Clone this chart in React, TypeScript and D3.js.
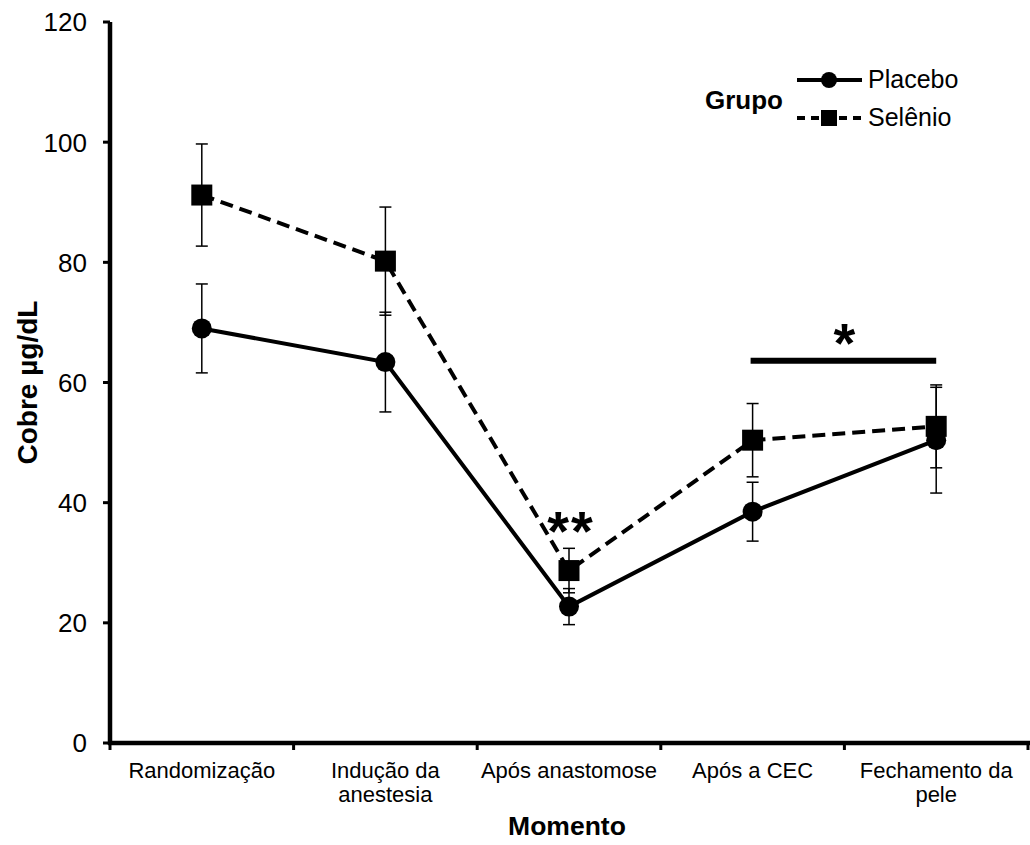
import React from "react";
import * as d3 from "d3";

const categories = ["Randomização", "Indução da\nanestesia", "Após anastomose", "Após a CEC", "Fechamento da\npele"];
const placeboMean = [69.0, 63.4, 22.7, 38.5, 50.4];
const placeboErr = [7.4, 8.3, 3.0, 4.9, 8.8];
const selenioMean = [91.2, 80.2, 28.7, 50.4, 52.7];
const selenioErr = [8.5, 9.0, 3.7, 6.1, 6.9];
const yTicks = [0, 20, 40, 60, 80, 100, 120];
const sigBar = { from: 3, to: 4, value: 63.6 };

const W = 1030, H = 845;
const FONT = "'Liberation Sans', Arial, Helvetica, sans-serif";

export default function App() {
  const x = d3.scaleBand<string>().domain(categories).range([110, 1028]).padding(0);
  const y = d3.scaleLinear().domain([0, 120]).range([743, 22]);
  const cx = (i: number) => (x(categories[i]) as number) + x.bandwidth() / 2;
  const line = d3.line<number>().x((_, i) => cx(i)).y((d) => y(d));
  const bandEdges = [...categories.map((c) => x(c) as number), 1028];

  const errBars = (means: number[], errs: number[], key: string) =>
    means.map((m, i) => {
      const X = cx(i);
      const t = y(m + errs[i]), b = y(m - errs[i]);
      return (
        <g key={key + i} stroke="#000" strokeWidth={1.5}>
          <line x1={X} x2={X} y1={t} y2={b} />
          <line x1={X - 6} x2={X + 6} y1={t} y2={t} />
          <line x1={X - 6} x2={X + 6} y1={b} y2={b} />
        </g>
      );
    });

  return (
    <svg width={W} height={H} style={{ position: "absolute", left: 0, top: 0, background: "#fff" }} fontFamily={FONT}>
      <rect width={W} height={H} fill="#fff" />
      {/* axes */}
      <line x1={110} x2={110} y1={y(120)} y2={y(0) + 2} stroke="#000" strokeWidth={4.5} />
      <line x1={108} x2={1030} y1={y(0)} y2={y(0)} stroke="#000" strokeWidth={4.5} />
      {yTicks.map((t) => (
        <g key={t}>
          <line x1={103} x2={110} y1={y(t)} y2={y(t)} stroke="#000" strokeWidth={3} />
          <text x={87} y={y(t)} dy="0.36em" textAnchor="end" fontSize={26} fill="#000">{t}</text>
        </g>
      ))}
      {bandEdges.map((e, i) => (
        <line key={i} x1={e} x2={e} y1={y(0)} y2={y(0) + 7} stroke="#000" strokeWidth={3} />
      ))}
      {categories.map((c, i) => (
        <text key={c} x={cx(i)} y={778} textAnchor="middle" fontSize={22} fill="#000">
          {c.split("\n").map((ln, j) => (
            <tspan key={j} x={cx(i)} dy={j === 0 ? 0 : 24}>{ln}</tspan>
          ))}
        </text>
      ))}
      <text x={567} y={835} textAnchor="middle" fontSize={26.5} fontWeight="bold" fill="#000">Momento</text>
      <text transform={`translate(37, ${y(60)}) rotate(-90)`} textAnchor="middle" fontSize={28} fontWeight="bold" fill="#000">Cobre µg/dL</text>

      {/* lines */}
      <path d={line(placeboMean) || ""} fill="none" stroke="#000" strokeWidth={4} />
      <path d={line(selenioMean) || ""} fill="none" stroke="#000" strokeWidth={4} strokeDasharray="13,7" />
      {errBars(placeboMean, placeboErr, "p")}
      {errBars(selenioMean, selenioErr, "s")}
      {placeboMean.map((m, i) => (
        <circle key={"pc" + i} cx={cx(i)} cy={y(m)} r={10} fill="#000" />
      ))}
      {selenioMean.map((m, i) => (
        <rect key={"sr" + i} x={cx(i) - 10.5} y={y(m) - 10.5} width={21} height={21} fill="#000" />
      ))}

      {/* significance */}
      <line x1={cx(sigBar.from) - 2} x2={cx(sigBar.to)} y1={y(sigBar.value)} y2={y(sigBar.value)} stroke="#000" strokeWidth={6} />
      <text x={(cx(sigBar.from) + cx(sigBar.to)) / 2} y={362} textAnchor="middle" fontSize={56} fontWeight="bold" fill="#000">*</text>
      <text x={cx(2) + 2} y={550} textAnchor="middle" fontSize={56} fontWeight="bold" fill="#000" letterSpacing={2}>**</text>

      {/* legend */}
      <text x={705} y={109} fontSize={26} fontWeight="bold" fill="#000">Grupo</text>
      <line x1={797} x2={862} y1={80} y2={80} stroke="#000" strokeWidth={4} />
      <circle cx={829} cy={80} r={8} fill="#000" />
      <text x={868} y={88} fontSize={25} fill="#000">Placebo</text>
      <line x1={797} x2={862} y1={118} y2={118} stroke="#000" strokeWidth={4} strokeDasharray="8,6" />
      <rect x={821} y={110} width={16} height={16} fill="#000" />
      <text x={868} y={126} fontSize={25} fill="#000">Selênio</text>
    </svg>
  );
}
